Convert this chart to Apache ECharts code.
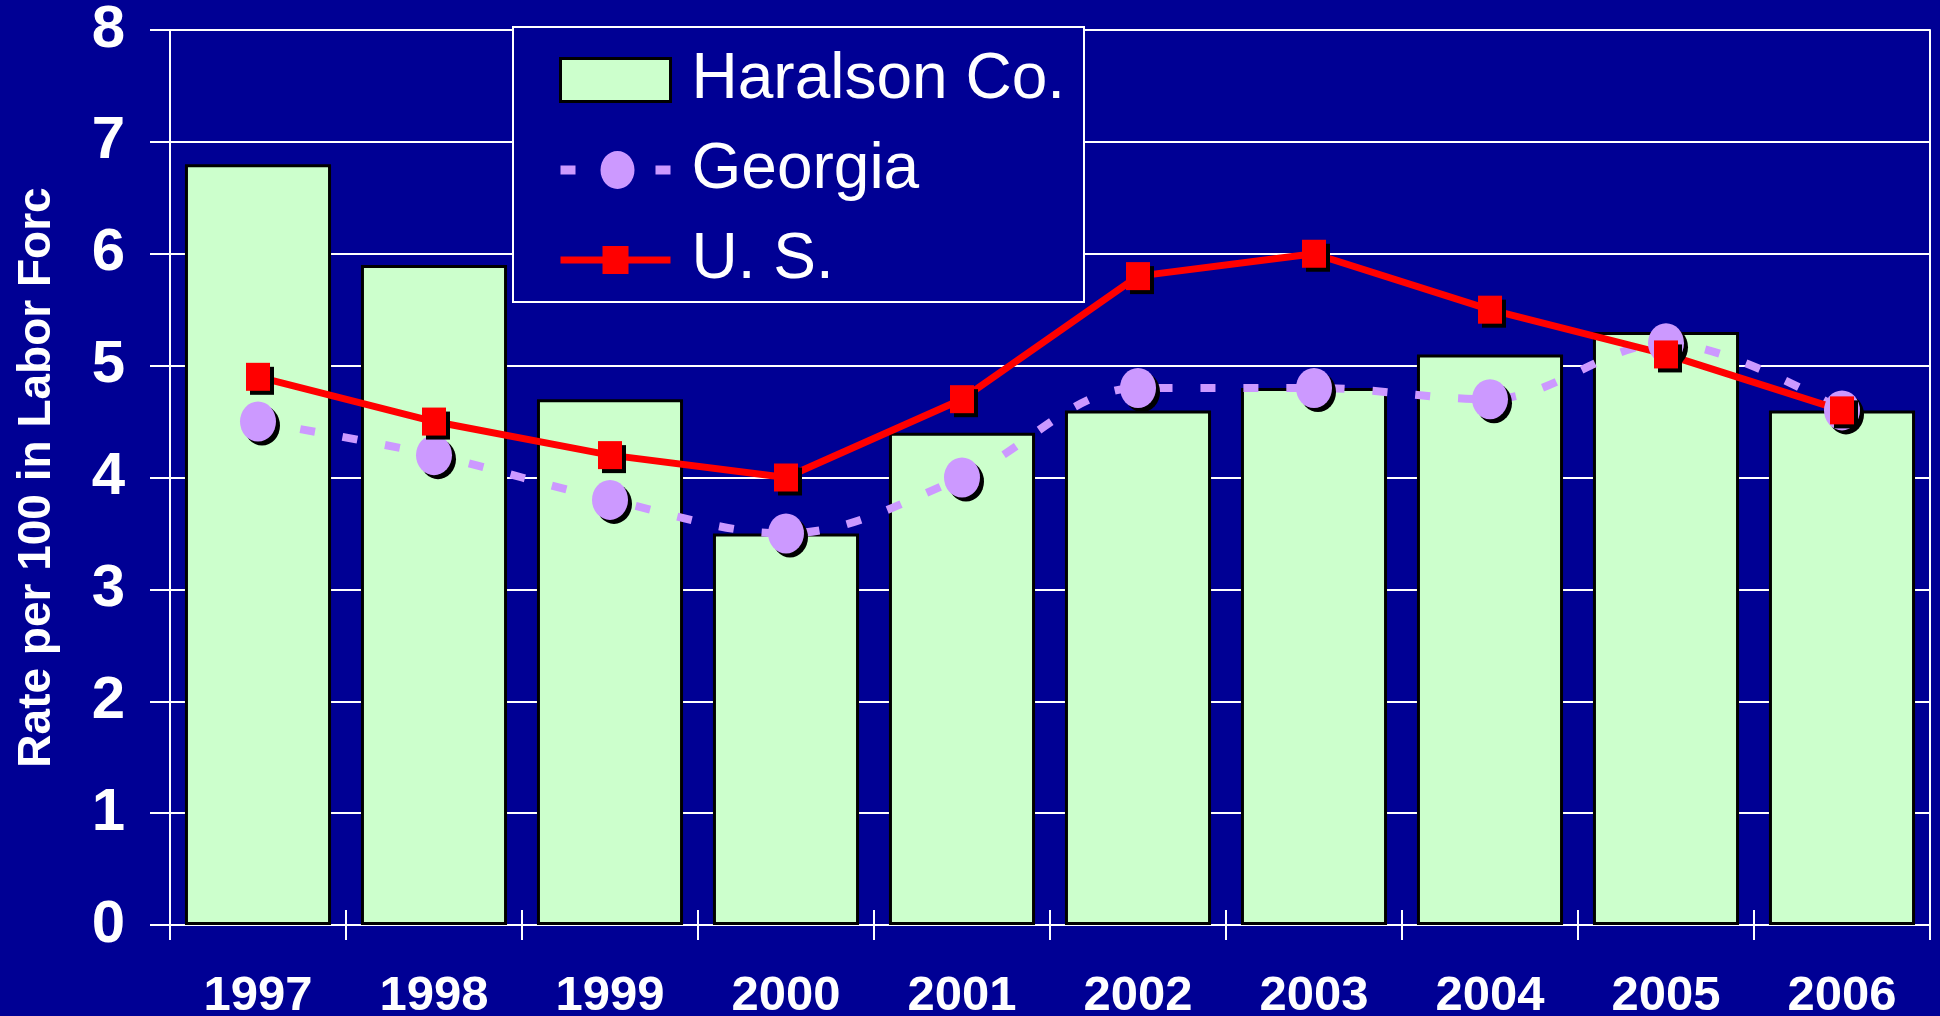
<!DOCTYPE html>
<html>
<head>
<meta charset="utf-8">
<script src="https://cdn.jsdelivr.net/npm/echarts@6/dist/echarts.min.js"></script>
<style>
html,body{margin:0;padding:0;background:#000094;}
#c{width:1940px;height:1016px;}
</style>
</head>
<body>
<div id="c"></div>
<script>
const years = ['1997','1998','1999','2000','2001','2002','2003','2004','2005','2006'];
const haralson = [6.8, 5.9, 4.7, 3.5, 4.4, 4.6, 4.8, 5.1, 5.3, 4.6];
const georgia  = [4.5, 4.2, 3.8, 3.5, 4.0, 4.8, 4.8, 4.7, 5.2, 4.6];
const us       = [4.9, 4.5, 4.2, 4.0, 4.7, 5.8, 6.0, 5.5, 5.1, 4.6];
const yTicks = [0, 1, 2, 3, 4, 5, 6, 7, 8];
const seriesNames = ['Haralson Co.', 'Georgia', 'U. S.'];
const yAxisName = 'Rate per 100 in Labor Forc';

const bg = '#000094';
const chart = echarts.init(document.getElementById('c'));
const yMin = yTicks[0], yMax = yTicks[yTicks.length - 1], yStep = yTicks[1] - yTicks[0];

chart.setOption({
  backgroundColor: bg,
  animation: false,
  grid: { left: 170, right: 10, top: 30, bottom: 91, containLabel: false, outerBoundsMode: 'none' },
  legend: {
    orient: 'vertical',
    left: 513, top: 27,
    padding: [21, 19, 10, 46],
    itemWidth: 110, itemHeight: 43, itemGap: 26,
    borderColor: '#fff', borderWidth: 2,
    backgroundColor: bg,
    selectedMode: false,
    textStyle: {
      color: '#fff', fontSize: 64, lineHeight: 64,
      fontFamily: '"Liberation Sans Narrow", "Liberation Sans", Arial, sans-serif',
      padding: [0, 0, 0, 16]
    },
    data: [
      { name: seriesNames[0], icon: 'rect', itemStyle: { borderColor: '#000', borderWidth: 3 } },
      { name: seriesNames[1], icon: 'path://M0,14.5h15v9h-15z M40,19a17,19 0 1,0 34,0a17,19 0 1,0 -34,0z M95,14.5h15v9h-15z',
        itemStyle: { color: '#CC99FF', borderWidth: 0, shadowColor: 'rgba(0,0,0,0)' } },
      { name: seriesNames[2], icon: 'path://M0,10.5h110v7h-110z M42,0h26v28h-26z',
        itemStyle: { color: '#FF0000', borderWidth: 0, shadowColor: 'rgba(0,0,0,0)' } }
    ]
  },
  xAxis: [{
    type: 'category', data: years, boundaryGap: true, position: 'bottom',
    axisLine: { lineStyle: { color: '#fff', width: 2 } },
    axisTick: { show: true, length: 15, lineStyle: { color: '#fff', width: 2 } },
    axisLabel: { color: '#fff', fontSize: 49, fontWeight: 'bold', fontFamily: '"Liberation Sans", Arial, sans-serif', margin: 47 }
  }, {
    type: 'category', data: years, boundaryGap: true, position: 'bottom',
    axisLine: { show: false },
    axisTick: { show: true, inside: true, length: 15, lineStyle: { color: '#fff', width: 2 } },
    axisLabel: { show: false }
  }],
  yAxis: [{
    type: 'value', min: yMin, max: yMax, interval: yStep, position: 'left',
    name: yAxisName, nameLocation: 'middle', nameGap: 110,
    nameTextStyle: { color: '#fff', fontSize: 46, fontWeight: 'bold', fontFamily: '"Liberation Sans", Arial, sans-serif' },
    axisLine: { show: true, lineStyle: { color: '#fff', width: 2 } },
    axisTick: { show: true, length: 20, lineStyle: { color: '#fff', width: 2 } },
    axisLabel: { color: '#fff', fontSize: 60, fontWeight: 'bold', fontFamily: '"Liberation Sans", Arial, sans-serif', margin: 45 },
    splitLine: { show: true, lineStyle: { color: '#fff', width: 2 } }
  }, {
    type: 'value', min: yMin, max: yMax, interval: yStep, position: 'right',
    axisLine: { show: true, lineStyle: { color: '#fff', width: 2 } },
    axisTick: { show: false }, axisLabel: { show: false }, splitLine: { show: false }
  }],
  series: [{
    name: seriesNames[0], type: 'bar', data: haralson, barCategoryGap: '17%',
    itemStyle: { color: '#CCFFCC', borderColor: '#000', borderWidth: 3 }
  }, {
    name: seriesNames[1], type: 'line', data: georgia, smooth: 0.35,
    symbol: 'circle', symbolSize: [36, 40],
    lineStyle: { color: '#CC99FF', width: 8, type: [15, 28] },
    itemStyle: { color: '#CC99FF', shadowColor: '#000', shadowOffsetX: 4, shadowOffsetY: 4, shadowBlur: 0 }
  }, {
    name: seriesNames[2], type: 'line', data: us,
    symbol: 'rect', symbolSize: [24, 28],
    lineStyle: { color: '#FF0000', width: 7 },
    itemStyle: { color: '#FF0000', shadowColor: '#000', shadowOffsetX: 4, shadowOffsetY: 4, shadowBlur: 0 }
  }]
});
</script>
</body>
</html>
